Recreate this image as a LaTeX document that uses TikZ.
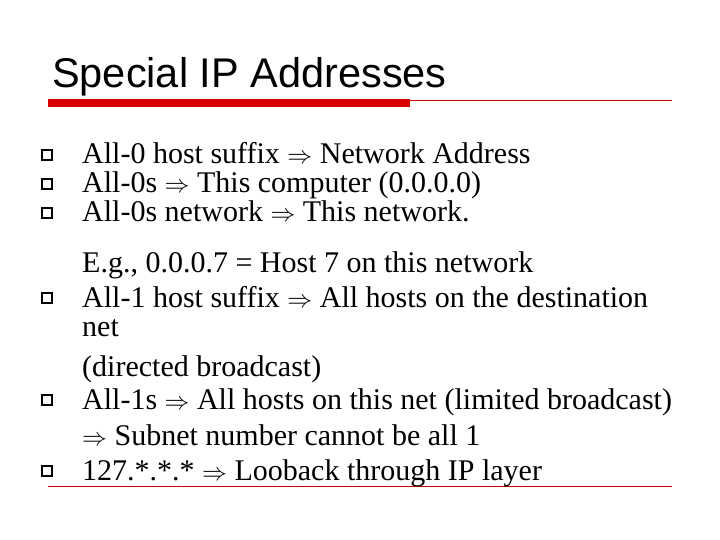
\documentclass[tikz,border=0pt]{standalone}
\usepackage{fontspec}
\setmainfont{Liberation Serif}
\newfontfamily\titlefont{Liberation Sans}
\begin{document}
\begin{tikzpicture}[x=1pt,y=-1pt,
  txt/.style={anchor=base west,inner sep=0pt,font=\fontsize{30}{34}\selectfont},
  bul/.style={draw=black,line width=1.2pt,minimum size=10pt,inner sep=0pt}]
\useasboundingbox (0,0) rectangle (720,540);
\node[anchor=base west,inner sep=0pt,font=\titlefont\fontsize{41.5}{46}\selectfont] (title) at (52,88) {Special IP Addresses};
\fill[red!85!black] (48,99) rectangle (410,107);
\draw[red!80!black,line width=0.6pt] (410,100) -- (672,100);
\draw[red!80!black,line width=0.6pt] (48,486) -- (672,486);
\foreach \y/\n in {155/b1,184/b2,213/b3,298/b4,400/b5,471/b6}
  \node[bul] (\n) at (47,\y) {};
\node[txt] (t1) at (82,164) {All-0 host suffix $\Rightarrow$ Network Address};
\node[txt] (t2) at (82,193) {All-0s $\Rightarrow$ This computer (0.0.0.0)};
\node[txt] (t3) at (82,222) {All-0s network $\Rightarrow$ This network.};
\node[txt] (t4) at (82,272) {E.g., 0.0.0.7 = Host 7 on this network};
\node[txt] (t5) at (82,307) {All-1 host suffix $\Rightarrow$ All hosts on the destination};
\node[txt] (t6) at (82,336) {net};
\node[txt] (t7) at (82,376) {(directed broadcast)};
\node[txt] (t8) at (82,409) {All-1s $\Rightarrow$ All hosts on this net (limited broadcast)};
\node[txt] (t9) at (82,445) {$\Rightarrow$ Subnet number cannot be all 1};
\node[txt] (t10) at (82,480) {127.*.*.* $\Rightarrow$ Looback through IP layer};
\end{tikzpicture}
\end{document}
